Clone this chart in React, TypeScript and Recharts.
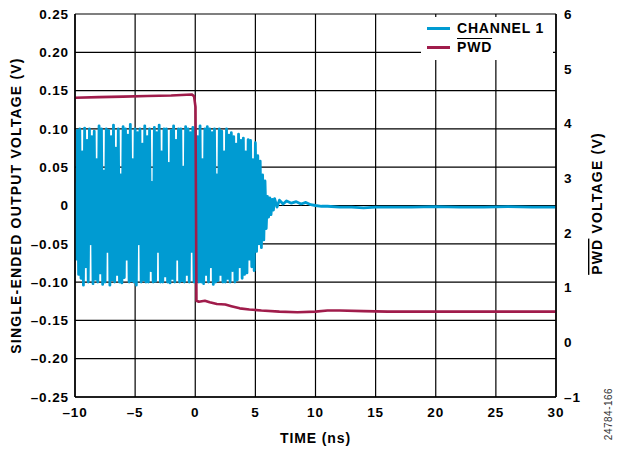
import React from 'react';
import { LineChart, Line, XAxis, YAxis, CartesianGrid, Legend, Label } from 'recharts';

const FONT = '"Liberation Sans", Arial, Helvetica, sans-serif';
const BLUE = '#009BD2';
const RED = '#A01C4B';

// Axis ticks
const xTicks = [-10, -5, 0, 5, 10, 15, 20, 25, 30];
const leftTicks = [-0.25, -0.2, -0.15, -0.1, -0.05, 0, 0.05, 0.1, 0.15, 0.2, 0.25];
const rightTicks = [-1, 0, 1, 2, 3, 4, 5, 6];

// CHANNEL 1 burst, sampled every 0.1 ns starting at -10 ns (V)
const ch1BurstStart = -10;
const ch1BurstStep = 0.1;
const ch1Burst = [
  0.03, -0.07, 0.098, -0.09, 0.10, -0.095, 0.07, -0.104, 0.101, -0.08,
  0.085, -0.10, 0.10, -0.05, 0.09, -0.102, 0.097, -0.096, 0.06, -0.10,
  0.104, -0.088, 0.10, -0.103, 0.045, -0.10, 0.10, -0.06, 0.098, -0.104,
  0.09, -0.097, 0.105, -0.10, 0.075, -0.09, 0.10, -0.10, 0.04, -0.101,
  0.103, -0.094, 0.10, -0.07, 0.092, -0.10, 0.106, -0.098, 0.06, -0.10,
  0.10, -0.104, 0.095, -0.05, 0.10, -0.10, 0.08, -0.097, 0.104, -0.10,
  0.09, -0.10, 0.10, -0.085, 0.03, -0.10, 0.102, -0.099, 0.095, -0.06,
  0.105, -0.10, 0.07, -0.10, 0.10, -0.092, 0.10, -0.10, 0.055, -0.101,
  0.098, -0.095, 0.104, -0.10, 0.085, -0.07, 0.10, -0.10, 0.10, -0.098,
  0.05, -0.10, 0.103, -0.09, 0.10, -0.10, 0.095, -0.06, 0.102, -0.10,
  0.10, -0.097, 0.09, -0.10, 0.104, -0.10, 0.06, -0.102, 0.10, -0.09,
  0.103, -0.10, 0.10, -0.08, 0.095, -0.103, 0.10, -0.10, 0.04, -0.098,
  0.10, -0.09, 0.097, -0.10, 0.07, -0.10, 0.10, -0.095, 0.092, -0.10,
  0.095, -0.085, 0.09, -0.10, 0.08, -0.097, 0.093, -0.08, 0.085, -0.095,
  0.088, -0.09, 0.07, -0.088, 0.086, -0.07, 0.085, -0.08, 0.06, -0.085,
  0.082, -0.06, 0.065, -0.05, 0.058, -0.055, 0.04, -0.045, 0.032, -0.03,
  0.012,
];

// CHANNEL 1 settling tail (ns, V)
const ch1TailTime = [6.1, 6.2, 6.3, 6.4, 6.5, 6.6, 6.8, 7.0, 7.3, 7.6, 8.0, 8.4, 8.8, 9.2, 9.6, 10, 10.5, 11, 12, 13, 14, 15, 16, 18, 20, 22, 24, 26, 28, 30];
const ch1TailValue = [-0.015, 0.01, -0.012, 0.008, -0.006, 0.009, -0.002, 0.007, 0.002, 0.006, 0.003, 0.005, 0.002, 0.004, 0.001, 0.0, -0.001, -0.001, -0.002, -0.002, -0.003, -0.002, -0.002, -0.002, -0.0015, -0.002, -0.002, -0.0015, -0.002, -0.002];

// PWD (ns, V)
const pwdTime = [-10, -8, -6, -4, -2, -0.3, -0.1, 0.02, 0.1, 0.3, 0.8, 1.2, 1.8, 2.5, 3.0, 3.7, 4.5, 5.5, 7, 8.5, 10, 11, 12, 14, 16, 20, 25, 30];
const pwdValue = [4.47, 4.48, 4.49, 4.5, 4.51, 4.53, 4.5, 4.3, 0.76, 0.74, 0.76, 0.73, 0.70, 0.69, 0.66, 0.62, 0.6, 0.58, 0.56, 0.55, 0.56, 0.58, 0.58, 0.57, 0.56, 0.56, 0.56, 0.56];

const ch1Data = [
  ...ch1Burst.map((v, i) => ({ t: +(ch1BurstStart + i * ch1BurstStep).toFixed(2), v })),
  ...ch1TailTime.map((t, i) => ({ t, v: ch1TailValue[i] })),
];
const pwdData = pwdTime.map((t, i) => ({ t, v: pwdValue[i] }));

const dash = (s: string) => s.replace('-', '\u2013');
const fmtLeft = (v: number) => (Math.abs(v) < 1e-9 ? '0' : dash(v.toFixed(2)));
const fmtInt = (v: number) => dash(String(v));

const tickStyle = { fontSize: 13.5, fontWeight: 'bold', fill: '#000', fontFamily: FONT, letterSpacing: 0.9 } as any;

const LegendBox = () => (
  <div style={{ background: '#fff', width: 132, height: 43, fontFamily: FONT, fontWeight: 'bold', fontSize: 14, letterSpacing: 0.8, color: '#000', position: 'relative' }}>
    <div style={{ position: 'absolute', left: 6, top: 10, width: 23, height: 3, background: BLUE }} />
    <div style={{ position: 'absolute', left: 36, top: 3, lineHeight: '16px' }}>CHANNEL 1</div>
    <div style={{ position: 'absolute', left: 6, top: 29, width: 23, height: 3, background: RED }} />
    <div style={{ position: 'absolute', left: 36, top: 22, lineHeight: '16px', textDecoration: 'overline' }}>PWD</div>
  </div>
);

export default function App() {
  return (
    <div style={{ position: 'absolute', left: 0, top: 0, width: 618, height: 453, background: '#fff' }}>
      <LineChart width={618} height={453} margin={{ top: 14, right: 22, bottom: 16, left: 10 }}>
        <CartesianGrid yAxisId="left" stroke="#000" strokeWidth={1.2} vertical horizontal />
        <XAxis
          dataKey="t"
          type="number"
          domain={[-10, 30]}
          ticks={xTicks}
          allowDataOverflow
          height={40}
          tickLine={false}
          tickMargin={4}
          axisLine={{ stroke: '#000', strokeWidth: 1.5 }}
          tick={tickStyle}
          tickFormatter={fmtInt}
        >
          <Label
            content={(p: any) => {
              const vb = p.viewBox;
              return (
                <text x={vb.x + vb.width / 2} y={vb.y + 46} textAnchor="middle" fontFamily={FONT} fontWeight="bold" fontSize={14} letterSpacing={0.9} fill="#000">
                  TIME (ns)
                </text>
              );
            }}
          />
        </XAxis>
        <YAxis
          yAxisId="left"
          type="number"
          domain={[-0.25, 0.25]}
          ticks={leftTicks}
          allowDataOverflow
          width={65}
          tickLine={false}
          tickMargin={0}
          axisLine={{ stroke: '#000', strokeWidth: 1.5 }}
          tick={tickStyle}
          tickFormatter={fmtLeft}
        >
          <Label
            content={(p: any) => {
              const vb = p.viewBox;
              const cx = vb.x + 6;
              const cy = vb.y + vb.height / 2;
              return (
                <text x={cx} y={cy} transform={`rotate(-90 ${cx} ${cy})`} textAnchor="middle" dominantBaseline="central" fontFamily={FONT} fontWeight="bold" fontSize={14} letterSpacing={1.2} fill="#000">
                  SINGLE-ENDED OUTPUT VOLTAGE (V)
                </text>
              );
            }}
          />
        </YAxis>
        <YAxis
          yAxisId="right"
          orientation="right"
          type="number"
          domain={[-1, 6]}
          ticks={rightTicks}
          allowDataOverflow
          width={40}
          tickLine={false}
          tickMargin={2}
          axisLine={{ stroke: '#000', strokeWidth: 1.5 }}
          tick={tickStyle}
          tickFormatter={fmtInt}
        >
          <Label
            content={(p: any) => {
              const vb = p.viewBox;
              const cx = vb.x + 41;
              const cy = vb.y + vb.height / 2 - 2;
              const wx = vb.x + 52;
              const wy = vb.y + vb.height + 17;
              return (
                <g>
                  <text x={cx} y={cy} transform={`rotate(-90 ${cx} ${cy})`} textAnchor="middle" dominantBaseline="central" fontFamily={FONT} fontWeight="bold" fontSize={14} letterSpacing={1.2} fill="#000">
                    <tspan style={{ textDecoration: 'overline' }}>PWD</tspan>
                    <tspan> VOLTAGE (V)</tspan>
                  </text>
                  <text x={wx} y={wy} transform={`rotate(-90 ${wx} ${wy})`} textAnchor="middle" dominantBaseline="central" fontFamily={FONT} fontSize={10} letterSpacing={0.5} fill="#333">
                    24784-166
                  </text>
                </g>
              );
            }}
          />
        </YAxis>
        <Legend
          layout="vertical"
          align="center"
          verticalAlign="middle"
          content={() => <LegendBox />}
          wrapperStyle={{ position: 'absolute', left: 421, top: 17, width: 132, height: 43 }}
        />
        <Line
          yAxisId="left"
          data={ch1Data}
          dataKey="v"
          name="CHANNEL 1"
          type="linear"
          stroke={BLUE}
          strokeWidth={2.8}
          dot={false}
          isAnimationActive={false}
          strokeLinejoin="round"
        />
        <Line
          yAxisId="right"
          data={pwdData}
          dataKey="v"
          name="PWD"
          type="linear"
          stroke={RED}
          strokeWidth={2.6}
          dot={false}
          isAnimationActive={false}
          strokeLinejoin="round"
        />
      </LineChart>
    </div>
  );
}
